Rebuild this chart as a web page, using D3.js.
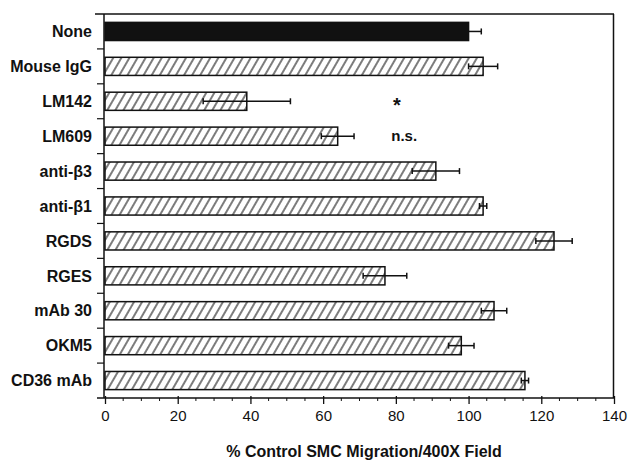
<!DOCTYPE html>
<html>
<head>
<meta charset="utf-8">
<script src="https://cdn.jsdelivr.net/npm/d3@7"></script>
<style>
  html, body { margin: 0; padding: 0; background: #fff; }
  svg { display: block; }
</style>
</head>
<body>
<svg id="chart" width="629" height="464"></svg>
<script>
const categories = ["None", "Mouse IgG", "LM142", "LM609", "anti-β3", "anti-β1", "RGDS", "RGES", "mAb 30", "OKM5", "CD36 mAb"];
const values = [100, 104, 39, 64, 91, 104, 123.5, 77, 107, 98, 115.5];
const errors = [3.5, 4, 12, 4.5, 6.5, 1, 5, 6, 3.5, 3.5, 1];
const solid = [true, false, false, false, false, false, false, false, false, false, false];
const xTicks = [0, 20, 40, 60, 80, 100, 120, 140];
const xTitle = "% Control SMC Migration/400X Field";
const annotations = [{cat: "LM142", text: "*", at: 80}, {cat: "LM609", text: "n.s.", at: 79}];

const svg = d3.select("#chart");
const x = d3.scaleLinear().domain([0, 140]).range([105, 614]);
const y = d3.scaleBand().domain(categories).range([14, 398]).paddingInner(0.48).paddingOuter(0.24);

const defs = svg.append("defs");
const pat = defs.append("pattern").attr("id", "hatch")
  .attr("patternUnits", "userSpaceOnUse").attr("width", 7).attr("height", 10)
  .attr("patternTransform", "rotate(30)");
pat.append("rect").attr("width", 7).attr("height", 10).attr("fill", "#fff");
pat.append("line").attr("x1", 1).attr("y1", 0).attr("x2", 1).attr("y2", 10)
  .attr("stroke", "#111").attr("stroke-width", 1.1);

const ink = "#111";

// frame (top and right)
svg.append("line").attr("x1", 95).attr("x2", 614).attr("y1", 14).attr("y2", 14).attr("stroke", ink).attr("stroke-width", 1.5);
svg.append("line").attr("x1", 613.5).attr("x2", 613.5).attr("y1", 14).attr("y2", 398).attr("stroke", ink).attr("stroke-width", 1.5);

// bars
svg.append("g").selectAll("rect").data(categories).join("rect")
  .attr("x", x(0))
  .attr("y", d => y(d))
  .attr("width", (d, i) => x(values[i]) - x(0))
  .attr("height", y.bandwidth())
  .attr("fill", (d, i) => solid[i] ? ink : "url(#hatch)")
  .attr("stroke", ink).attr("stroke-width", 1.5);

// error bars
const eb = svg.append("g").attr("stroke", ink).attr("stroke-width", 1.5);
categories.forEach((c, i) => {
  const cy = y(c) + y.bandwidth() / 2;
  const lo = solid[i] ? values[i] : values[i] - errors[i];
  const hi = values[i] + errors[i];
  eb.append("line").attr("x1", x(lo)).attr("x2", x(hi)).attr("y1", cy).attr("y2", cy);
  eb.append("line").attr("x1", x(hi)).attr("x2", x(hi)).attr("y1", cy - 3).attr("y2", cy + 3);
  if (!solid[i]) eb.append("line").attr("x1", x(lo)).attr("x2", x(lo)).attr("y1", cy - 3).attr("y2", cy + 3);
});

// left axis
const yAxis = svg.append("g").attr("transform", "translate(104,0)");
yAxis.append("line").attr("x1", 0).attr("x2", 0).attr("y1", 14).attr("y2", 398).attr("stroke", ink).attr("stroke-width", 1.5);
const bounds = categories.slice(1).map(c => y(c) - y.step() * y.paddingInner() / 2);
yAxis.selectAll("line.t").data(bounds).join("line").attr("class", "t")
  .attr("x1", -7).attr("x2", 0).attr("y1", d => d).attr("y2", d => d)
  .attr("stroke", ink).attr("stroke-width", 1.2);
svg.append("g").selectAll("text").data(categories).join("text")
  .attr("x", 92).attr("y", d => y(d) + y.bandwidth() / 2)
  .attr("dy", "0.36em").attr("text-anchor", "end")
  .attr("font-family", "Liberation Sans, Arial, sans-serif").attr("font-weight", "bold")
  .attr("font-size", 16).attr("fill", ink).text(d => d);

// bottom axis
const xAxis = d3.axisBottom(x).tickValues(xTicks).tickSize(6).tickSizeOuter(0).tickPadding(6);
const gx = svg.append("g").attr("transform", "translate(0,398)").call(xAxis);
gx.select(".domain").attr("stroke", ink).attr("stroke-width", 1.5).attr("d", `M97,0H615`);
gx.selectAll(".tick line").attr("stroke", ink).attr("stroke-width", 1.3).attr("y1", -2);
gx.selectAll(".tick text").attr("font-family", "Liberation Sans, Arial, sans-serif")
  .attr("font-size", 15).attr("fill", ink);
const minor = d3.range(5, 140, 5).filter(v => v % 20 !== 0);
gx.selectAll("line.minor").data(minor).join("line").attr("class", "minor")
  .attr("x1", d => x(d)).attr("x2", d => x(d)).attr("y1", 0).attr("y2", 3)
  .attr("stroke", ink).attr("stroke-width", 1);

svg.append("text").attr("x", 364).attr("y", 457).attr("text-anchor", "middle")
  .attr("font-family", "Liberation Sans, Arial, sans-serif").attr("font-weight", "bold")
  .attr("font-size", 16).attr("fill", ink).text(xTitle);

// annotations
annotations.forEach(a => {
  const cy = y(a.cat) + y.bandwidth() / 2;
  if (a.text === "*") {
    svg.append("text").attr("x", x(a.at) + 1).attr("y", cy + 11).attr("text-anchor", "middle")
      .attr("font-family", "Liberation Sans, Arial, sans-serif").attr("font-weight", "bold")
      .attr("font-size", 20).attr("fill", ink).text(a.text);
  } else {
    svg.append("text").attr("x", x(a.at) - 1).attr("y", cy + 5)
      .attr("font-family", "Liberation Sans, Arial, sans-serif").attr("font-weight", "bold")
      .attr("font-size", 15).attr("fill", ink).text(a.text);
  }
});
</script>
</body>
</html>
